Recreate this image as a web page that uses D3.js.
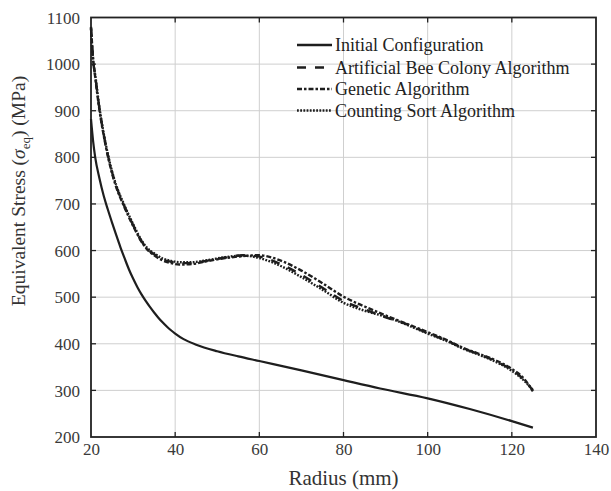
<!DOCTYPE html>
<html><head><meta charset="utf-8">
<script src="https://cdn.jsdelivr.net/npm/d3@7"></script>
<style>body{margin:0;background:#fff}svg{display:block;font-family:"Liberation Serif","Times New Roman",serif}svg text{font-family:"Liberation Serif","Times New Roman",serif}</style>
</head><body><svg id="c" width="611" height="491"></svg>
<script>
const xTicks = [20, 40, 60, 80, 100, 120, 140];
const yTicks = [200, 300, 400, 500, 600, 700, 800, 900, 1000, 1100];
const seriesNames = ["Initial Configuration", "Artificial Bee Colony Algorithm", "Genetic Algorithm", "Counting Sort Algorithm"];

const initialX = [20, 20.5, 21, 22, 23, 24, 25, 26, 27, 28, 29, 30, 31, 32, 33, 34, 35, 36, 37, 38, 39, 40, 42, 45, 50, 55, 60, 70, 80, 88.7, 100, 110, 120, 125];
const initialY = [882, 835, 800, 755, 718, 688, 660, 633, 607, 583, 560, 540, 522, 506, 492, 479, 467, 456, 446, 437, 429, 422, 410, 398, 384, 373, 363, 343, 322, 304, 283, 260, 234, 220];

const abcX = [20, 20.5, 21, 22, 23, 24, 25, 26, 27.7, 30, 32, 33.2, 35, 37, 39, 41, 44, 48, 52, 56, 60, 63, 66, 70, 75, 80, 85, 89, 95, 100, 105, 108.5, 112, 116, 120, 123, 125];
const abcY = [1078, 1010, 975, 905, 850, 805, 768, 738, 700, 655, 620, 605, 592, 581, 576, 573, 573, 579, 585, 590, 587, 579, 567, 548, 520, 492, 474, 460, 442, 423, 405, 390, 378, 363, 344, 322, 300];

const gaX = [20, 20.5, 21, 22, 23, 24, 25, 26, 27.7, 30, 32, 33.2, 35, 37, 39, 41, 44, 48, 52, 56, 60, 63, 66, 70, 75, 80, 85, 90, 95, 100, 105, 108.5, 112, 116, 120, 123, 125];
const gaY = [1080, 1012, 972, 902, 848, 803, 766, 736, 698, 653, 619, 604, 590, 579, 573, 570, 571, 578, 584, 588, 590, 585, 575, 557, 530, 501, 480, 461, 443, 425, 406, 391, 379, 365, 346, 324, 298];

const csX = [20, 20.5, 21, 22, 23, 24, 25, 26, 27.7, 30, 32, 33.2, 35, 37, 39, 41, 44, 48, 52, 56, 60, 63, 66, 70, 75, 80, 85, 90, 95, 100, 105, 108.5, 112, 116, 120, 123, 125];
const csY = [1076, 1008, 977, 907, 852, 807, 770, 740, 702, 657, 622, 607, 594, 583, 578, 575, 575, 580, 586, 589, 584, 575, 563, 543, 516, 488, 471, 458, 441, 422, 404, 389, 377, 362, 342, 320, 301];

const FONT = "Liberation Serif";
const svg = d3.select("#c");
const m = {l: 91, r: 596, t: 17.5, b: 437};
const x = d3.scaleLinear().domain([20, 140]).range([m.l, m.r]);
const y = d3.scaleLinear().domain([200, 1100]).range([m.b, m.t]);

// grid
const g = svg.append("g");
g.selectAll(".vg").data(xTicks.slice(1, -1)).enter().append("line")
  .attr("x1", d => x(d)).attr("x2", d => x(d)).attr("y1", m.t).attr("y2", m.b)
  .attr("stroke", "#cfcfcf").attr("stroke-width", 1);
g.selectAll(".hg").data(yTicks.slice(1, -1)).enter().append("line")
  .attr("y1", d => y(d)).attr("y2", d => y(d)).attr("x1", m.l).attr("x2", m.r)
  .attr("stroke", "#cfcfcf").attr("stroke-width", 1);

// axes
const fmt = d3.format("d");
const xAxis = d3.axisBottom(x).tickValues(xTicks).tickFormat(fmt).tickSize(0).tickPadding(0);
const yAxis = d3.axisLeft(y).tickValues(yTicks).tickFormat(fmt).tickSize(0).tickPadding(0);
const xa = svg.append("g").attr("transform", `translate(0,${m.b})`).call(xAxis).attr("font-family", FONT);
xa.select(".domain").remove();
xa.selectAll("text").attr("dy", null).attr("y", 18).attr("font-size", 17).attr("fill", "#3a3a3a");
const ya = svg.append("g").attr("transform", `translate(${m.l},0)`).call(yAxis).attr("font-family", FONT);
ya.select(".domain").remove();
ya.selectAll("text").attr("x", -11).attr("dy", "0.33em").attr("font-size", 17).attr("fill", "#3a3a3a");

// inner ticks
const tk = svg.append("g").attr("stroke", "#222").attr("stroke-width", 1.3);
xTicks.slice(1, -1).forEach(v => {
  tk.append("line").attr("x1", x(v)).attr("x2", x(v)).attr("y1", m.b).attr("y2", m.b - 5);
  tk.append("line").attr("x1", x(v)).attr("x2", x(v)).attr("y1", m.t).attr("y2", m.t + 5);
});
yTicks.slice(1, -1).forEach(v => {
  tk.append("line").attr("y1", y(v)).attr("y2", y(v)).attr("x1", m.l).attr("x2", m.l + 5);
  tk.append("line").attr("y1", y(v)).attr("y2", y(v)).attr("x1", m.r).attr("x2", m.r - 5);
});
svg.append("rect").attr("x", m.l).attr("y", m.t).attr("width", m.r - m.l).attr("height", m.b - m.t)
  .attr("fill", "none").attr("stroke", "#222").attr("stroke-width", 1.8);

// lines
const styles = [
  {dash: null, w: 2.2},
  {dash: "9,9", w: 2.4},
  {dash: "5,2,2.5,2", w: 2.4},
  {dash: "1.8,1.4", w: 2.4}
];
const data = [
  initialX.map((v, i) => [v, initialY[i]]),
  abcX.map((v, i) => [v, abcY[i]]),
  gaX.map((v, i) => [v, gaY[i]]),
  csX.map((v, i) => [v, csY[i]])
];
const line = d3.line().x(d => x(d[0])).y(d => y(d[1])).curve(d3.curveMonotoneX);
data.forEach((d, i) => {
  svg.append("path").attr("d", line(d)).attr("fill", "none").attr("stroke", "#1e1e1e")
    .attr("stroke-width", styles[i].w).attr("stroke-dasharray", styles[i].dash);
});

// legend
const lg = svg.append("g").attr("font-family", FONT);
const rows = [45, 67.5, 89, 110.5];
seriesNames.forEach((n, i) => {
  lg.append("line").attr("x1", 297).attr("x2", 332).attr("y1", rows[i]).attr("y2", rows[i])
    .attr("stroke", "#1e1e1e").attr("stroke-width", 2.5).attr("stroke-dasharray", styles[i].dash);
  lg.append("text").attr("x", 335).attr("y", rows[i] + 6).attr("font-size", 18).attr("fill", "#222").text(n);
});

// axis labels
svg.append("text").attr("x", (m.l + m.r) / 2).attr("y", 485).attr("text-anchor", "middle")
  .attr("font-family", FONT).attr("font-size", 21).attr("fill", "#333").text("Radius (mm)");
const yl = svg.append("text").attr("transform", "translate(25,191) rotate(-90)").attr("text-anchor", "middle")
  .attr("font-family", FONT).attr("font-size", 19.5).attr("fill", "#333");
yl.append("tspan").text("Equivalent Stress (");
yl.append("tspan").attr("font-style", "italic").text("σ");
yl.append("tspan").attr("font-size", 13).attr("dy", 5).text("eq");
yl.append("tspan").attr("dy", -5).text(") (MPa)");
</script></body></html>
